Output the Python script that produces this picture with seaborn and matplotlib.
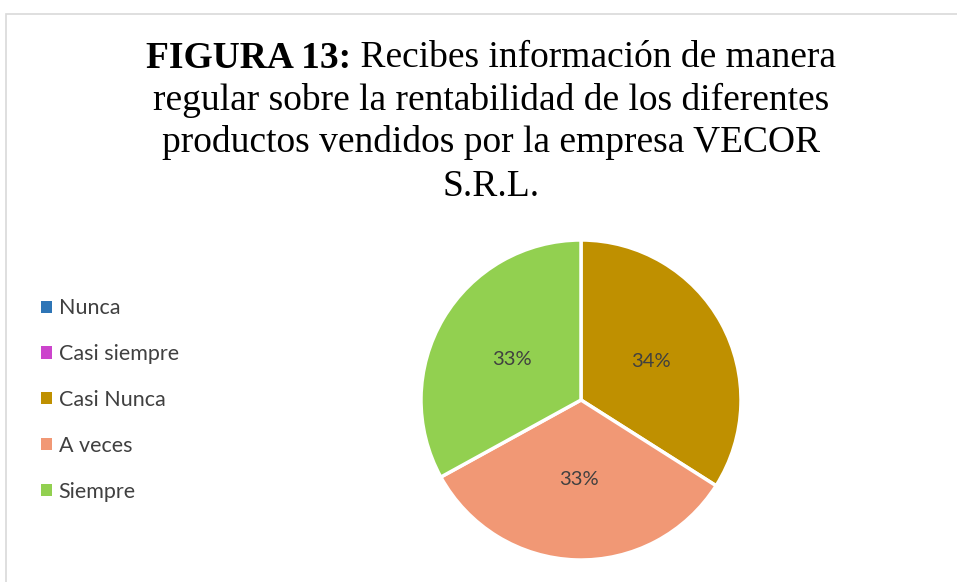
import seaborn as sns
import matplotlib.pyplot as plt
from matplotlib.patches import Patch, Rectangle

# Data
categories = ['Nunca', 'Casi siempre', 'Casi Nunca', 'A veces', 'Siempre']
values = [0, 0, 34, 33, 33]
colors = ['#2E75B6', '#CC44CC', '#BF9000', '#F19875', '#92D050']
title_bold = 'FIGURA 13:'
title_lines = [' Recibes información de manera',
               'regular sobre la rentabilidad de los diferentes',
               'productos vendidos por la empresa VECOR',
               'S.R.L.']

sns.set_theme(style="white")
plt.rcParams['font.family'] = ['Lato', 'DejaVu Sans']

W, H = 957, 582
fig = plt.figure(figsize=(W / 100, H / 100), dpi=100)

# chart border (light gray, runs off the right and bottom edges)
fig.patches.append(Rectangle((5.5 / W, -0.1), 1.2, (H - 13.5) / H + 0.1,
                             transform=fig.transFigure, fill=False,
                             edgecolor='#D9D9D9', linewidth=1.2))

# pie
cx, cy, r = 581, 400, 160
ax = fig.add_axes([(cx - r) / W, (H - cy - r) / H, 2 * r / W, 2 * r / H])
wedges, texts, autotexts = ax.pie(
    values, colors=colors, startangle=90, counterclock=False,
    autopct=lambda p: f'{p:.0f}%' if p > 0 else '', pctdistance=0.5,
    wedgeprops=dict(edgecolor='white', linewidth=2.5),
    textprops=dict(color='#404040', fontsize=14.5))
ax.set_xlim(-1.0, 1.0)
ax.set_ylim(-1.0, 1.0)
ax.axis('off')

# legend
handles = [Patch(facecolor=c, edgecolor='none') for c in colors]
leg = fig.legend(handles, categories, loc='center left',
                 bbox_to_anchor=(22 / W, (H - 400) / H), frameon=False,
                 fontsize=15.5, labelspacing=1.2, handlelength=0.5,
                 handleheight=0.5, handletextpad=0.3)
for t in leg.get_texts():
    t.set_color('#404040')

# title with bold prefix
serif = ['Liberation Serif', 'DejaVu Serif']
fs = 27
center_x = 491
line_y = [58, 100, 143, 187]
renderer = fig.canvas.get_renderer()
tb = fig.text(0, 1 - line_y[0] / H, title_bold, family=serif, fontsize=fs,
              weight='bold', va='center', ha='left', color='black')
tn = fig.text(0, 1 - line_y[0] / H, title_lines[0], family=serif, fontsize=fs,
              va='center', ha='left', color='black')
wb = tb.get_window_extent(renderer).width
wn = tn.get_window_extent(renderer).width
x0 = center_x - (wb + wn) / 2
tb.set_x(x0 / W)
tn.set_x((x0 + wb) / W)
for line, y in zip(title_lines[1:], line_y[1:]):
    fig.text(center_x / W, 1 - y / H, line, family=serif, fontsize=fs,
             va='center', ha='center', color='black')

fig.savefig('out.png', dpi=100)
